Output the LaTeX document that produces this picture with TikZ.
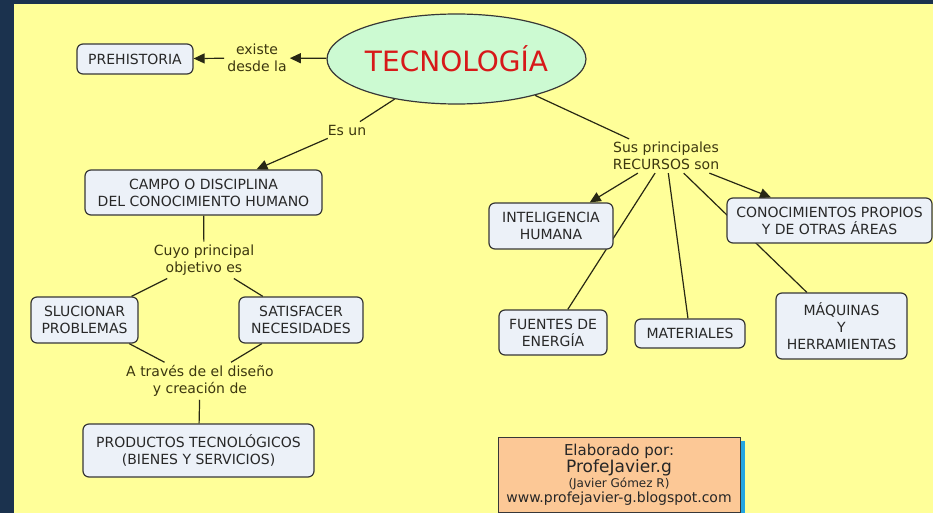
\documentclass[tikz,border=0pt]{standalone}
\usepackage{fontspec}
\setmainfont{DejaVu Sans}
\usetikzlibrary{arrows.meta,shapes.geometric}
\pgfdeclarelayer{back}
\pgfdeclarelayer{lines}
\pgfsetlayers{back,lines,main}
\definecolor{navy}{RGB}{27,50,78}
\definecolor{panel}{RGB}{255,255,153}
\definecolor{boxfill}{RGB}{236,241,248}
\definecolor{boxline}{RGB}{55,55,55}
\definecolor{boxtext}{RGB}{40,40,40}
\definecolor{lbltext}{RGB}{60,55,15}
\definecolor{connclr}{RGB}{40,40,20}
\definecolor{ellfill}{RGB}{204,250,210}
\definecolor{titlered}{RGB}{215,25,25}
\definecolor{peach}{RGB}{252,200,150}
\definecolor{shadowblue}{RGB}{35,165,225}
\begin{document}
\begin{tikzpicture}[x=1pt,y=-1pt,
  concept/.style={draw=boxline, fill=boxfill, line width=1.2pt, rounded corners=6pt,
    inner sep=0pt, align=center, text=boxtext, font=\fontsize{14}{17}\selectfont},
  linkp/.style={inner sep=3pt, align=center, text=lbltext, font=\fontsize{14}{17}\selectfont},
  linkline/.style={draw=connclr, line width=1.2pt},
  arrowline/.style={linkline, -{Triangle[length=11pt,width=10pt]}},
  credit/.style={draw=boxline, fill=peach, line width=1pt, inner sep=0pt, align=center,
    text=black!85, font=\fontsize{13}{15}\selectfont},
]
\useasboundingbox (0,0) rectangle (933,513);
\begin{pgfonlayer}{back}
  \fill[navy] (0,0) rectangle (933,513);
  \fill[panel] (14,4) rectangle (933,513);
  \fill[shadowblue] (503,441) rectangle (745,516);
\end{pgfonlayer}

% concept nodes
\node[ellipse, draw=boxline, fill=ellfill, line width=1.2pt, minimum width=221pt,
  minimum height=90pt, inner sep=0pt, text=titlered, font=\fontsize{28}{30}\selectfont]
  (tec) at (456.5,59) {TECNOLOGÍA};
\node[concept, minimum width=116pt, minimum height=30pt] (pre) at (135,59) {PREHISTORIA};
\node[concept, minimum width=237pt, minimum height=45pt] (campo) at (203.5,192.5)
  {CAMPO O DISCIPLINA\\DEL CONOCIMIENTO HUMANO};
\node[concept, minimum width=107pt, minimum height=46pt] (sluc) at (84.5,320)
  {SLUCIONAR\\PROBLEMAS};
\node[concept, minimum width=124pt, minimum height=46pt] (satis) at (301,320)
  {SATISFACER\\NECESIDADES};
\node[concept, minimum width=231pt, minimum height=53pt] (prod) at (198.5,450.5)
  {PRODUCTOS TECNOLÓGICOS\\(BIENES Y SERVICIOS)};
\node[concept, minimum width=124pt, minimum height=46pt] (intel) at (551,226)
  {INTELIGENCIA\\HUMANA};
\node[concept, minimum width=108pt, minimum height=45pt] (fuent) at (553,332.5)
  {FUENTES DE\\ENERGÍA};
\node[concept, minimum width=110pt, minimum height=29pt] (mater) at (690,333.5)
  {MATERIALES};
\node[concept, minimum width=205pt, minimum height=45pt] (conoc) at (829.5,220.5)
  {CONOCIMIENTOS PROPIOS\\Y DE OTRAS ÁREAS};
\node[concept, minimum width=131pt, minimum height=66pt] (maq) at (841.5,326)
  {MÁQUINAS\\Y\\HERRAMIENTAS};

% linking phrases
\node[linkp] (existe) at (257,58) {existe\\desde la};
\node[linkp] (esun) at (347,130) {Es un};
\node[linkp] (cuyo) at (204,260) {Cuyo principal\\objetivo es};
\node[linkp] (atraves) at (200,381) {A través de el diseño\\y creación de};
\node[linkp] (sus) at (666,156) {Sus principales\\RECURSOS son};

% credit box
\node[credit, minimum width=242pt, minimum height=75pt] (cred) at (619,474.5)
  {{\fontsize{15}{15}\selectfont Elaborado por:}\\
   {\fontsize{17}{15}\selectfont ProfeJavier.g}\\
   {\fontsize{12}{15}\selectfont (Javier Gómez R)}\\
   {\fontsize{14}{15}\selectfont www.profejavier-g.blogspot.com}};

% connectors
\begin{pgfonlayer}{lines}
  \draw[arrowline] (tec) -- (existe);
  \draw[arrowline] (existe) -- (pre);
  \draw[linkline] (tec) -- (esun);
  \draw[arrowline] (esun) -- (campo);
  \draw[linkline] (campo) -- (cuyo);
  \draw[linkline] (cuyo) -- (sluc);
  \draw[linkline] (cuyo) -- (satis);
  \draw[linkline] (sluc) -- (atraves);
  \draw[linkline] (satis) -- (atraves);
  \draw[linkline] (atraves) -- (prod);
  \draw[linkline] (tec) -- (sus);
  \draw[arrowline] (sus) -- (intel);
  \draw[linkline] (sus) -- (fuent);
  \draw[linkline] (sus) -- (mater);
  \draw[arrowline] (sus) -- (conoc);
  \draw[linkline] (sus) -- (maq);
\end{pgfonlayer}
\end{tikzpicture}
\end{document}
